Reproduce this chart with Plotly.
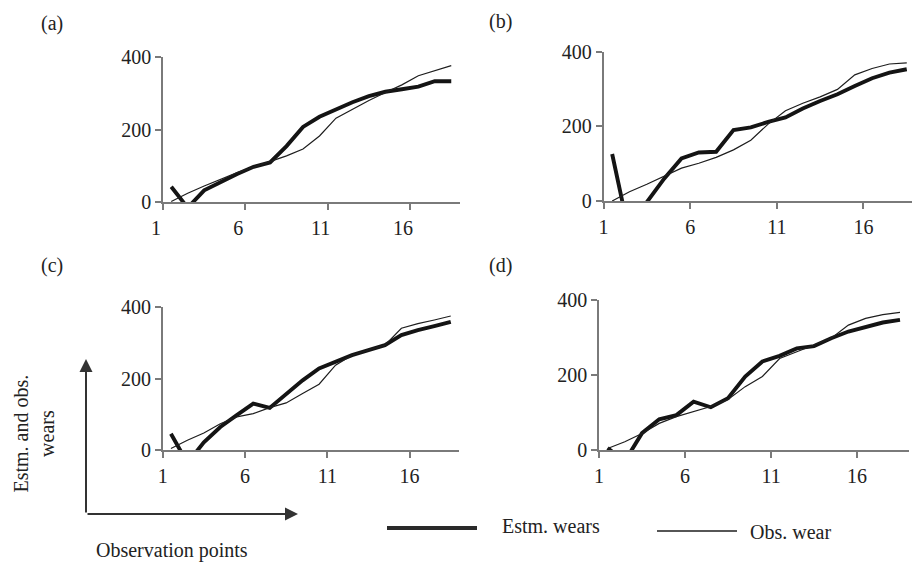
import plotly.graph_objects as go

# ---------------- data ----------------
points = list(range(1, 19))                 # observation points 1..18
tick_pos = [0.5, 5.5, 10.5, 15.5]           # category boundaries where ticks sit
tick_text = ["1", "6", "11", "16"]
y_ticks = [0, 200, 400]

est_a = [43, -15, 33, 57, 78, 98, 110, 155, 208, 236, 257, 276, 293, 305, 312, 319, 334, 334]
obs_a = [2, 25, 45, 63, 82, 97, 112, 128, 147, 183, 232, 257, 281, 303, 324, 349, 363, 377]

est_b = [126, -91, -3, 60, 114, 130, 132, 190, 197, 212, 224, 248, 268, 286, 308, 329, 344, 353]
obs_b = [0, 25, 45, 67, 88, 101, 117, 137, 163, 206, 242, 262, 279, 299, 338, 355, 367, 370]

est_c = [46, -35, 22, 65, 98, 130, 118, 158, 195, 228, 247, 265, 279, 293, 321, 335, 346, 358]
obs_c = [5, 28, 48, 74, 93, 102, 119, 132, 158, 184, 237, 265, 279, 293, 340, 353, 363, 374]

est_d = [5, -30, 45, 82, 93, 129, 114, 138, 196, 236, 251, 271, 277, 298, 316, 329, 340, 347]
obs_d = [4, 22, 44, 71, 89, 102, 116, 135, 169, 196, 244, 262, 280, 298, 333, 351, 361, 367]

panel_labels = ["(a)", "(b)", "(c)", "(d)"]
series_names = ["Estm. wears", "Obs. wear"]

# ---------------- styling / layout ----------------
W, H = 912, 562
FONT = "Liberation Serif, Times New Roman, serif"
TXT = "#222222"
AX = "#7a7a7a"
font = dict(family=FONT, size=20, color=TXT)


def px(x):
    return x / W


def py(y):
    return 1 - y / H


# per panel: x pixel span, y pixel span (top, bottom), x range, label shift
panel_geo = [
    dict(x0=163, x1=459.5, top=57.3, bot=202.3, rng=[0.5, 18.5], shift=-7),
    dict(x0=603.5, x1=912, top=51.7, bot=201, rng=[0.5, 0.5 + (912 - 603.5) / 17.33], shift=0),
    dict(x0=162.7, x1=459, top=306.7, bot=450.3, rng=[0.5, 18.5], shift=0),
    dict(x0=599, x1=908.6, top=300, bot=450, rng=[0.5, 18.5], shift=0),
]
label_pos = [(52, 23), (501, 22), (52, 266), (501, 266)]

panels = [(est_a, obs_a), (est_b, obs_b), (est_c, obs_c), (est_d, obs_d)]

fig = go.Figure()
layout_axes = {}
for k, (est, obs) in enumerate(panels):
    sfx = "" if k == 0 else str(k + 1)
    g = panel_geo[k]
    fig.add_trace(go.Scatter(
        x=points, y=est, mode="lines", name=series_names[0],
        line=dict(color="#141414", width=3.9),
        xaxis="x" + sfx, yaxis="y" + sfx, showlegend=False))
    fig.add_trace(go.Scatter(
        x=points, y=obs, mode="lines", name=series_names[1],
        line=dict(color="#1e1e1e", width=1.2),
        xaxis="x" + sfx, yaxis="y" + sfx, showlegend=False))
    layout_axes["xaxis" + sfx] = dict(
        domain=[px(g["x0"]), min(1.0, px(g["x1"]))], anchor="y" + sfx,
        range=g["rng"], tickmode="array", tickvals=tick_pos, ticktext=tick_text,
        ticks="outside", ticklen=6, tickwidth=1.5, tickcolor=AX,
        showline=True, linecolor=AX, linewidth=1.5, automargin=False,
        showgrid=False, zeroline=False, tickfont=font,
        ticklabelshift=g["shift"], ticklabelstandoff=1, fixedrange=True)
    layout_axes["yaxis" + sfx] = dict(
        domain=[py(g["bot"]), py(g["top"])], anchor="x" + sfx,
        range=[0, 400], tickmode="array", tickvals=y_ticks,
        ticks="outside", ticklen=6, tickwidth=1.5, tickcolor=AX,
        showline=True, linecolor=AX, linewidth=1.5, automargin=False,
        showgrid=False, zeroline=False, tickfont=font, fixedrange=True)

annotations = []
for lab, (lx, ly) in zip(panel_labels, label_pos):
    annotations.append(dict(text=lab, x=px(lx), y=py(ly), xref="paper", yref="paper",
                            xanchor="center", yanchor="middle", showarrow=False, font=font))

# generic axis-meaning arrows and texts
annotations.append(dict(text="Estm. and obs.<br>wears", x=px(33.5), y=py(434),
                        xref="paper", yref="paper", textangle=-90, showarrow=False,
                        xanchor="center", yanchor="middle", font=font))
annotations.append(dict(text="Observation points", x=px(172), y=py(550),
                        xref="paper", yref="paper", showarrow=False,
                        xanchor="center", yanchor="middle", font=font))
annotations.append(dict(text="", x=px(86), y=py(359), xref="paper", yref="paper",
                        ax=0, ay=155, axref="pixel", ayref="pixel", showarrow=True,
                        arrowhead=2, arrowsize=1.3, arrowwidth=2, arrowcolor="#333333"))
annotations.append(dict(text="", x=px(298), y=py(514), xref="paper", yref="paper",
                        ax=-212, ay=0, axref="pixel", ayref="pixel", showarrow=True,
                        arrowhead=2, arrowsize=1.3, arrowwidth=2, arrowcolor="#333333"))

# legend (drawn manually to mimic long sample lines)
annotations.append(dict(text=series_names[0], x=px(500), y=py(526), xref="paper", yref="paper",
                        xanchor="left", yanchor="middle", showarrow=False, font=font))
annotations.append(dict(text=series_names[1], x=px(748), y=py(532), xref="paper", yref="paper",
                        xanchor="left", yanchor="middle", showarrow=False, font=font))
shapes = [
    dict(type="line", xref="paper", yref="paper", x0=px(387), x1=px(477), y0=py(528), y1=py(528),
         line=dict(color="#2a2a2a", width=4)),
    dict(type="line", xref="paper", yref="paper", x0=px(657), x1=px(737), y0=py(531), y1=py(531),
         line=dict(color="#1e1e1e", width=1.3)),
]

fig.update_layout(
    width=W, height=H, margin=dict(l=0, r=0, t=0, b=0, autoexpand=False),
    paper_bgcolor="white", plot_bgcolor="white",
    font=font, showlegend=False,
    annotations=annotations, shapes=shapes, **layout_axes)

fig.write_html("out.html", config={"displayModeBar": False},
               post_script="document.body.style.margin='0';document.body.style.overflow='hidden';")
